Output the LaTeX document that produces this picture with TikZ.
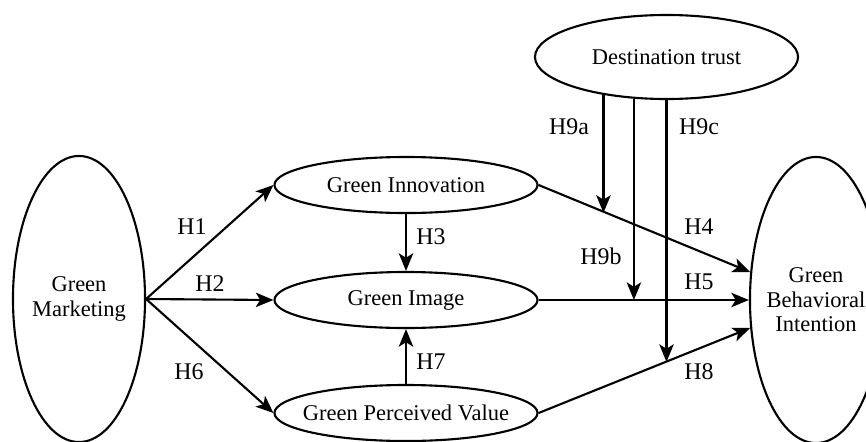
\documentclass[tikz,border=0pt]{standalone}
\usepackage{fontspec}
\setmainfont{Liberation Serif}
\usetikzlibrary{shapes.geometric, arrows.meta, calc}

\begin{document}
\begin{tikzpicture}[x=0.025cm, y=-0.025cm,
  >={Stealth[length=4.4mm, width=3.6mm, inset=1.1mm]},
  every node/.style={font=\fontsize{16}{17.5}\selectfont},
  big/.style={draw, ellipse, line width=1.5pt, align=center, minimum width=3.3cm, minimum height=7.15cm, inner xsep=-0.2cm, inner ysep=0pt},
  mid/.style={draw, ellipse, line width=1.5pt, align=center, minimum width=6.575cm, minimum height=1.4cm, inner xsep=-0.35cm, inner ysep=0pt},
  hyp/.style={font=\fontsize{17}{20}\selectfont, inner sep=0pt},
  link/.style={->, line width=1.5pt}
]
  \useasboundingbox (0,0) rectangle (866,441);

  \node[big] (gm) at (79,299) {Green\\Marketing};
  \node[big] (gbi) at (816,300) {Green\\Behavioral\\Intention};
  \node[mid] (gi) at (406,185) {Green Innovation};
  \node[mid] (gim) at (406,300) {Green Image};
  \node[mid] (gpv) at (406,413) {Green Perceived Value};
  \node[mid, minimum height=2.1cm] (dt) at (666.5,57) {Destination trust};

  \draw[link] (gm.east) -- (gi.west);
  \draw[link] (gm.east) -- (gim.west);
  \draw[link] (gm.east) -- (gpv.west);
  \draw[link] (gi.south) -- (gim.north);
  \draw[link] (gpv.north) -- (gim.south);
  \draw[link] (gi.east) -- (gbi.157);
  \draw[link] (gim.east) -- (gbi.west);
  \draw[link] (gpv.east) -- (gbi.203);

  % moderation by destination trust
  \coordinate (m4) at ($(gi.east)!0.32!(gbi.157)$);
  \coordinate (m5) at ($(gim.east)!0.46!(gbi.west)$);
  \coordinate (m8) at ($(gpv.east)!0.6!(gbi.203)$);
  \draw[link] (dt.211.7) -- (dt.211.7 |- m4);
  \draw[link] (dt.232.3) -- (dt.232.3 |- m5);
  \draw[link] (dt.south) -- (dt.south |- m8);

  \node[hyp] (h1) at (192,227) {H1};
  \node[hyp] (h2) at (210,284) {H2};
  \node[hyp] (h6) at (189,372) {H6};
  \node[hyp] (h3) at (431,237) {H3};
  \node[hyp] (h7) at (431,362) {H7};
  \node[hyp] (h4) at (699,227) {H4};
  \node[hyp] (h5) at (699,282) {H5};
  \node[hyp] (h8) at (699,372) {H8};
  \node[hyp] (h9a) at (569,127) {H9a};
  \node[hyp] (h9b) at (601,256) {H9b};
  \node[hyp] (h9c) at (699,127) {H9c};
\end{tikzpicture}
\end{document}
